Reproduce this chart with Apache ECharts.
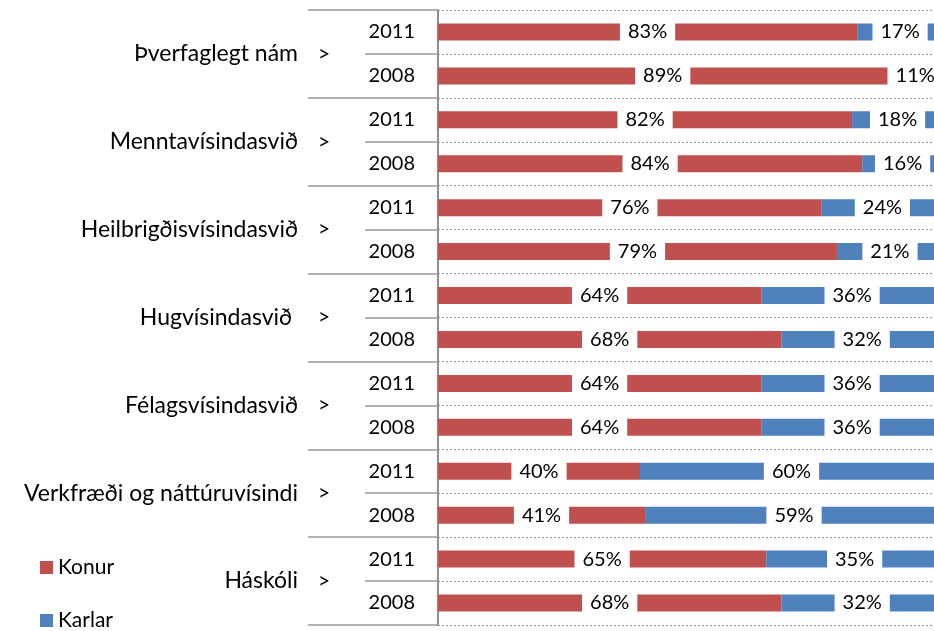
<!DOCTYPE html>
<html><head><meta charset="utf-8">
<script src="https://cdn.jsdelivr.net/npm/echarts@6/dist/echarts.min.js"></script>
<style>html,body{margin:0;padding:0;background:#fff}#c{width:934px;height:631px}</style>
</head><body><div id="c"></div>
<script>
const groups = ['Þverfaglegt nám','Menntavísindasvið','Heilbrigðisvísindasvið','Hugvísindasvið ','Félagsvísindasvið','Verkfræði og náttúruvísindi','Háskóli'];
const years = ['2011','2008'];
const konur = [83,89, 82,84, 76,79, 64,68, 64,64, 40,41, 65,68];
const karlar = [17,11, 18,16, 24,21, 36,32, 36,36, 60,59, 35,32];
const seriesNames = ['Konur','Karlar'];
const rows = [];
groups.forEach(g => years.forEach(y => rows.push(y)));

const FONT = 'Lato';
const chart = echarts.init(document.getElementById('c'), null, {renderer:'canvas'});
const lbl = {
  show: true, position: 'inside', formatter: '{c}%', color: '#000',
  fontFamily: FONT, fontSize: 20, backgroundColor: '#fff', padding: [3, 8, 1, 8]
};
const legendBase = {
  orient: 'vertical', left: 40, padding: 0, itemWidth: 13, itemHeight: 13,
  icon: 'rect', textStyle: {fontFamily: FONT, fontSize: 21, color: '#000'}
};
chart.setOption({
  animation: false,
  textStyle: {fontFamily: FONT},
  grid: {left: 438, top: 10, width: 505, bottom: 6, outerBoundsMode: 'none'},
  legend: [
    Object.assign({}, legendBase, {top: 557, data: [seriesNames[0]]}),
    Object.assign({}, legendBase, {top: 610, data: [seriesNames[1]]})
  ],
  xAxis: {type: 'value', min: 0, max: 100, show: false, splitLine: {show: false}},
  yAxis: [
    {
      type: 'category', data: rows, inverse: true, position: 'left',
      axisLine: {show: true, lineStyle: {color: '#888', width: 1.5}},
      axisTick: {show: true, length: 73, interval: 0, lineStyle: {color: '#999', width: 1.5}},
      axisLabel: {interval: 0, margin: 23, color: '#000', fontFamily: FONT, fontSize: 20},
      splitLine: {show: true, interval: 0, lineStyle: {color: '#999', type: [2, 2], width: 1}}
    },
    {
      type: 'category', data: groups, inverse: true, position: 'left', offset: 0,
      axisLine: {show: true, lineStyle: {color: '#888', width: 1.5}},
      axisTick: {show: true, length: 130, interval: 0, lineStyle: {color: '#999', width: 1.5}},
      axisLabel: {
        interval: 0, margin: 88, color: '#000',
        formatter: v => '{a|' + v + '}{b|>}',
        rich: {
          a: {fontFamily: FONT, fontSize: 23, color: '#000'},
          b: {fontFamily: FONT, fontSize: 21, color: '#000', width: 52, align: 'center'}
        }
      },
      splitLine: {show: false}
    }
  ],
  series: [
    {name: seriesNames[0], type: 'bar', stack: 't', data: konur, barWidth: 17,
     itemStyle: {color: '#C0504D'}, label: lbl},
    {name: seriesNames[1], type: 'bar', stack: 't', data: karlar, barWidth: 17,
     itemStyle: {color: '#4F81BD'}, label: lbl}
  ]
});
</script></body></html>
